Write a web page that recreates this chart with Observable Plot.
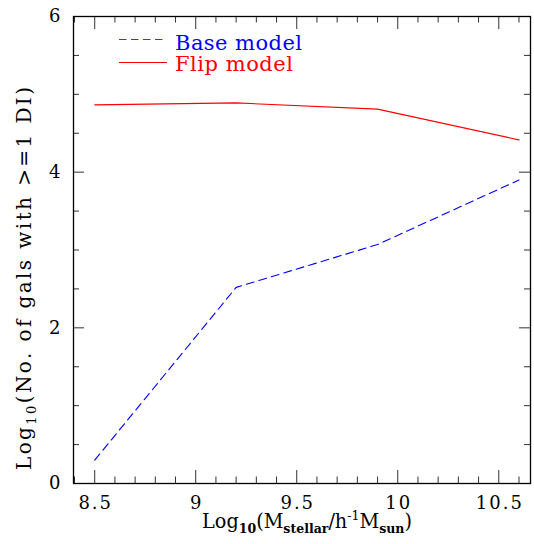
<!DOCTYPE html>
<html>
<head>
<meta charset="utf-8">
<script src="https://cdn.jsdelivr.net/npm/d3@7"></script>
<script src="https://cdn.jsdelivr.net/npm/@observablehq/plot@0.6"></script>
<style>
  html, body { margin: 0; padding: 0; background: #fff; }
  svg text, svg tspan { font-family: 'DejaVu Serif', 'Liberation Serif', serif !important; }
</style>
</head>
<body>
<div id="chart"></div>
<script>
// ---- data ----
const masses = [8.5, 9.2, 9.9, 10.6];
const baseModel = [0.30, 2.52, 3.07, 3.90];
const flipModel = [4.865, 4.89, 4.81, 4.415];
const xTickLabels = [8.5, 9, 9.5, 10, 10.5];
const yTickLabels = [0, 2, 4, 6];
const xMinorTicks = d3.range(84, 107).map(d => d / 10);   // 8.4 .. 10.6
const yMinorTicks = d3.range(0, 13).map(d => d / 2);      // 0 .. 6

const baseRows = masses.map((m, i) => ({x: m, y: baseModel[i]}));
const flipRows = masses.map((m, i) => ({x: m, y: flipModel[i]}));

const W = 534, H = 544, mt = 16, mb = 61, ml = 73, mr = 4;
const plotH = H - mt - mb, plotW = W - ml - mr;
const FONT = "'DejaVu Serif', 'Liberation Serif', serif";

const xMajorSet = new Set(xTickLabels.map(String));
const yMajorSet = new Set(yTickLabels.map(String));
const xMinorOnly = xMinorTicks.filter(d => !xMajorSet.has(String(d)));
const yMinorOnly = yMinorTicks.filter(d => !yMajorSet.has(String(d)));

const tickColor = "#333";

const chart = Plot.plot({
  width: W, height: H,
  marginTop: mt, marginBottom: mb, marginLeft: ml, marginRight: mr,
  style: {fontFamily: FONT, background: "#fff"},
  x: {domain: [8.395, 10.657], axis: null},
  y: {domain: [0, 6], axis: null},
  marks: [
    // bottom ticks
    Plot.ruleX(xTickLabels, {x: d => d, insetTop: plotH - 13, stroke: tickColor, strokeWidth: 1}),
    Plot.ruleX(xMinorOnly, {x: d => d, insetTop: plotH - 6.5, stroke: tickColor, strokeWidth: 1}),
    // top ticks
    Plot.ruleX(xTickLabels, {x: d => d, insetBottom: plotH - 13, stroke: tickColor, strokeWidth: 1}),
    Plot.ruleX(xMinorOnly, {x: d => d, insetBottom: plotH - 6.5, stroke: tickColor, strokeWidth: 1}),
    // left ticks
    Plot.ruleY(yTickLabels, {y: d => d, insetRight: plotW - 11, stroke: tickColor, strokeWidth: 1}),
    Plot.ruleY(yMinorOnly, {y: d => d, insetRight: plotW - 6, stroke: tickColor, strokeWidth: 1}),
    // right ticks
    Plot.ruleY(yTickLabels, {y: d => d, insetLeft: plotW - 11, stroke: tickColor, strokeWidth: 1}),
    Plot.ruleY(yMinorOnly, {y: d => d, insetLeft: plotW - 6, stroke: tickColor, strokeWidth: 1}),
    Plot.frame({stroke: "#000", strokeWidth: 1.3}),
    // tick labels
    Plot.text(xTickLabels, {x: d => d, frameAnchor: "bottom", dy: 20, dx: 1, text: d => String(d),
      fontSize: 18, fill: "#000", lineAnchor: "middle"}),
    Plot.text(yTickLabels, {y: d => d, frameAnchor: "left", dx: -11, text: d => String(d),
      fontSize: 18, fill: "#000", textAnchor: "end"}),
    // data lines
    Plot.line(baseRows, {x: "x", y: "y", stroke: "#0000ff", strokeWidth: 1.1, strokeDasharray: "8,5"}),
    Plot.line(flipRows, {x: "x", y: "y", stroke: "#ff0000", strokeWidth: 1.1})
  ]
});

document.getElementById("chart").appendChild(chart);

const svg = d3.select(chart);
// wide glyph spacing as in the reference
svg.selectAll("text").style("letter-spacing", "2px");

// legend
const leg = svg.append("g").attr("text-anchor", "start");
leg.append("line").attr("x1", 119).attr("x2", 167).attr("y1", 39.5).attr("y2", 39.5)
  .attr("stroke", "#3333ff").attr("stroke-width", 1.1).attr("stroke-dasharray", "7.5,4.5");
leg.append("text").attr("x", 175).attr("y", 50).attr("fill", "#0000ff").attr("font-size", 21)
  .attr("textLength", 127).attr("lengthAdjust", "spacing").text("Base model");
leg.append("line").attr("x1", 119).attr("x2", 167).attr("y1", 62.5).attr("y2", 62.5)
  .attr("stroke", "#ff0000").attr("stroke-width", 1.1);
leg.append("text").attr("x", 175).attr("y", 71).attr("fill", "#ff0000").attr("font-size", 21)
  .attr("textLength", 118).attr("lengthAdjust", "spacing").text("Flip model");

// x-axis label
const xl = svg.append("text").attr("x", 202).attr("y", 528).attr("font-size", 20).attr("fill", "#000")
  .attr("text-anchor", "start").attr("textLength", 210).attr("lengthAdjust", "spacingAndGlyphs");
xl.append("tspan").text("Log");
xl.append("tspan").attr("font-size", 13).attr("dy", 5).attr("font-weight", "bold").text("10");
xl.append("tspan").attr("dy", -5).text("(M");
xl.append("tspan").attr("font-size", 13).attr("dy", 5).attr("font-weight", "bold").text("stellar");
xl.append("tspan").attr("dy", -5).text("/h");
xl.append("tspan").attr("font-size", 13).attr("dy", -8).text("-1");
xl.append("tspan").attr("dy", 8).text("M");
xl.append("tspan").attr("font-size", 13).attr("dy", 5).attr("font-weight", "bold").text("sun");
xl.append("tspan").attr("dy", -5).text(")");

// y-axis label
const yl = svg.append("text").attr("transform", "translate(31,470) rotate(-90)")
  .attr("text-anchor", "start").attr("textLength", 383).attr("lengthAdjust", "spacing")
  .attr("font-size", 20).attr("fill", "#000");
yl.append("tspan").text("Log");
yl.append("tspan").attr("font-size", 13).attr("dy", 5).text("10");
yl.append("tspan").attr("dy", -5).text("(No. of gals with >=1 DI)");
</script>
</body>
</html>
